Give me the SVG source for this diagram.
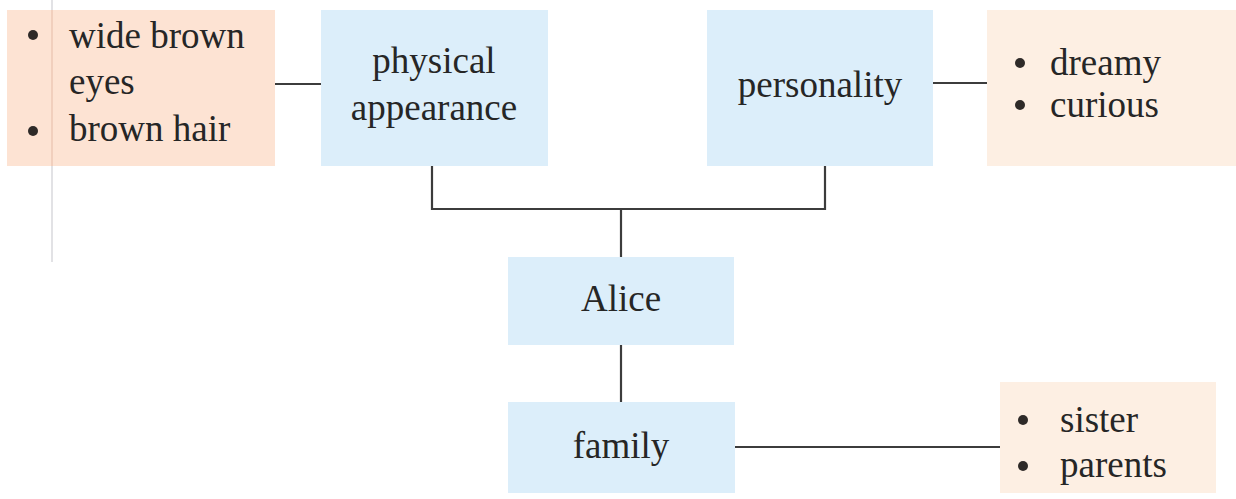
<svg xmlns="http://www.w3.org/2000/svg" width="1236" height="499" viewBox="0 0 1236 499">
<style>
.blue{fill:#dceefa}
.orange{fill:#fde3d3}
.peach{fill:#fdefe3}
.t{font-family:'Liberation Serif','Times New Roman',serif;font-size:37px;fill:#262626}
.c{text-anchor:middle}
.line{stroke:#3c3c3c;stroke-width:2.2;fill:none}
.dot{fill:#2e2a28}
</style>
<rect width="1236" height="499" fill="#ffffff"/>
<line x1="52" y1="0" x2="52" y2="262" stroke="#d8d8dc" stroke-width="1.5"/>
<g id="connectors">
<line class="line" x1="275" y1="84" x2="321" y2="84"/>
<line class="line" x1="933" y1="83" x2="987" y2="83"/>
<polyline class="line" points="432,166 432,209 825,209 825,166"/>
<line class="line" x1="621" y1="209" x2="621" y2="257"/>
<line class="line" x1="621" y1="345" x2="621" y2="402"/>
<line class="line" x1="735" y1="447" x2="1000" y2="447"/>
</g>
<g id="physical-list">
<rect class="orange" x="7" y="10" width="268" height="156"/>
<line x1="52" y1="10" x2="52" y2="166" stroke="#ecc9b6" stroke-width="1.5"/>
<circle class="dot" cx="33" cy="35" r="5"/>
<circle class="dot" cx="33" cy="131" r="5"/>
<text class="t" x="69" y="48">wide brown</text>
<text class="t" x="69" y="94">eyes</text>
<text class="t" x="69" y="141">brown hair</text>
</g>
<g id="physical">
<rect class="blue" x="321" y="10" width="227" height="156"/>
<text class="t c" x="434" y="73">physical</text>
<text class="t c" x="434" y="120">appearance</text>
</g>
<g id="personality">
<rect class="blue" x="707" y="10" width="226" height="156"/>
<text class="t c" x="820" y="97">personality</text>
</g>
<g id="personality-list">
<rect class="peach" x="987" y="10" width="249" height="156"/>
<circle class="dot" cx="1020" cy="63" r="5"/>
<circle class="dot" cx="1020" cy="105" r="5"/>
<text class="t" x="1050" y="75">dreamy</text>
<text class="t" x="1050" y="117">curious</text>
</g>
<g id="alice">
<rect class="blue" x="508" y="257" width="226" height="88"/>
<text class="t c" x="621" y="311">Alice</text>
</g>
<g id="family">
<rect class="blue" x="508" y="402" width="227" height="91"/>
<text class="t c" x="621" y="458">family</text>
</g>
<g id="family-list">
<rect class="peach" x="1000" y="382" width="216" height="111"/>
<circle class="dot" cx="1023" cy="420" r="5"/>
<circle class="dot" cx="1023" cy="466" r="5"/>
<text class="t" x="1060" y="432">sister</text>
<text class="t" x="1060" y="477">parents</text>
</g>
</svg>
